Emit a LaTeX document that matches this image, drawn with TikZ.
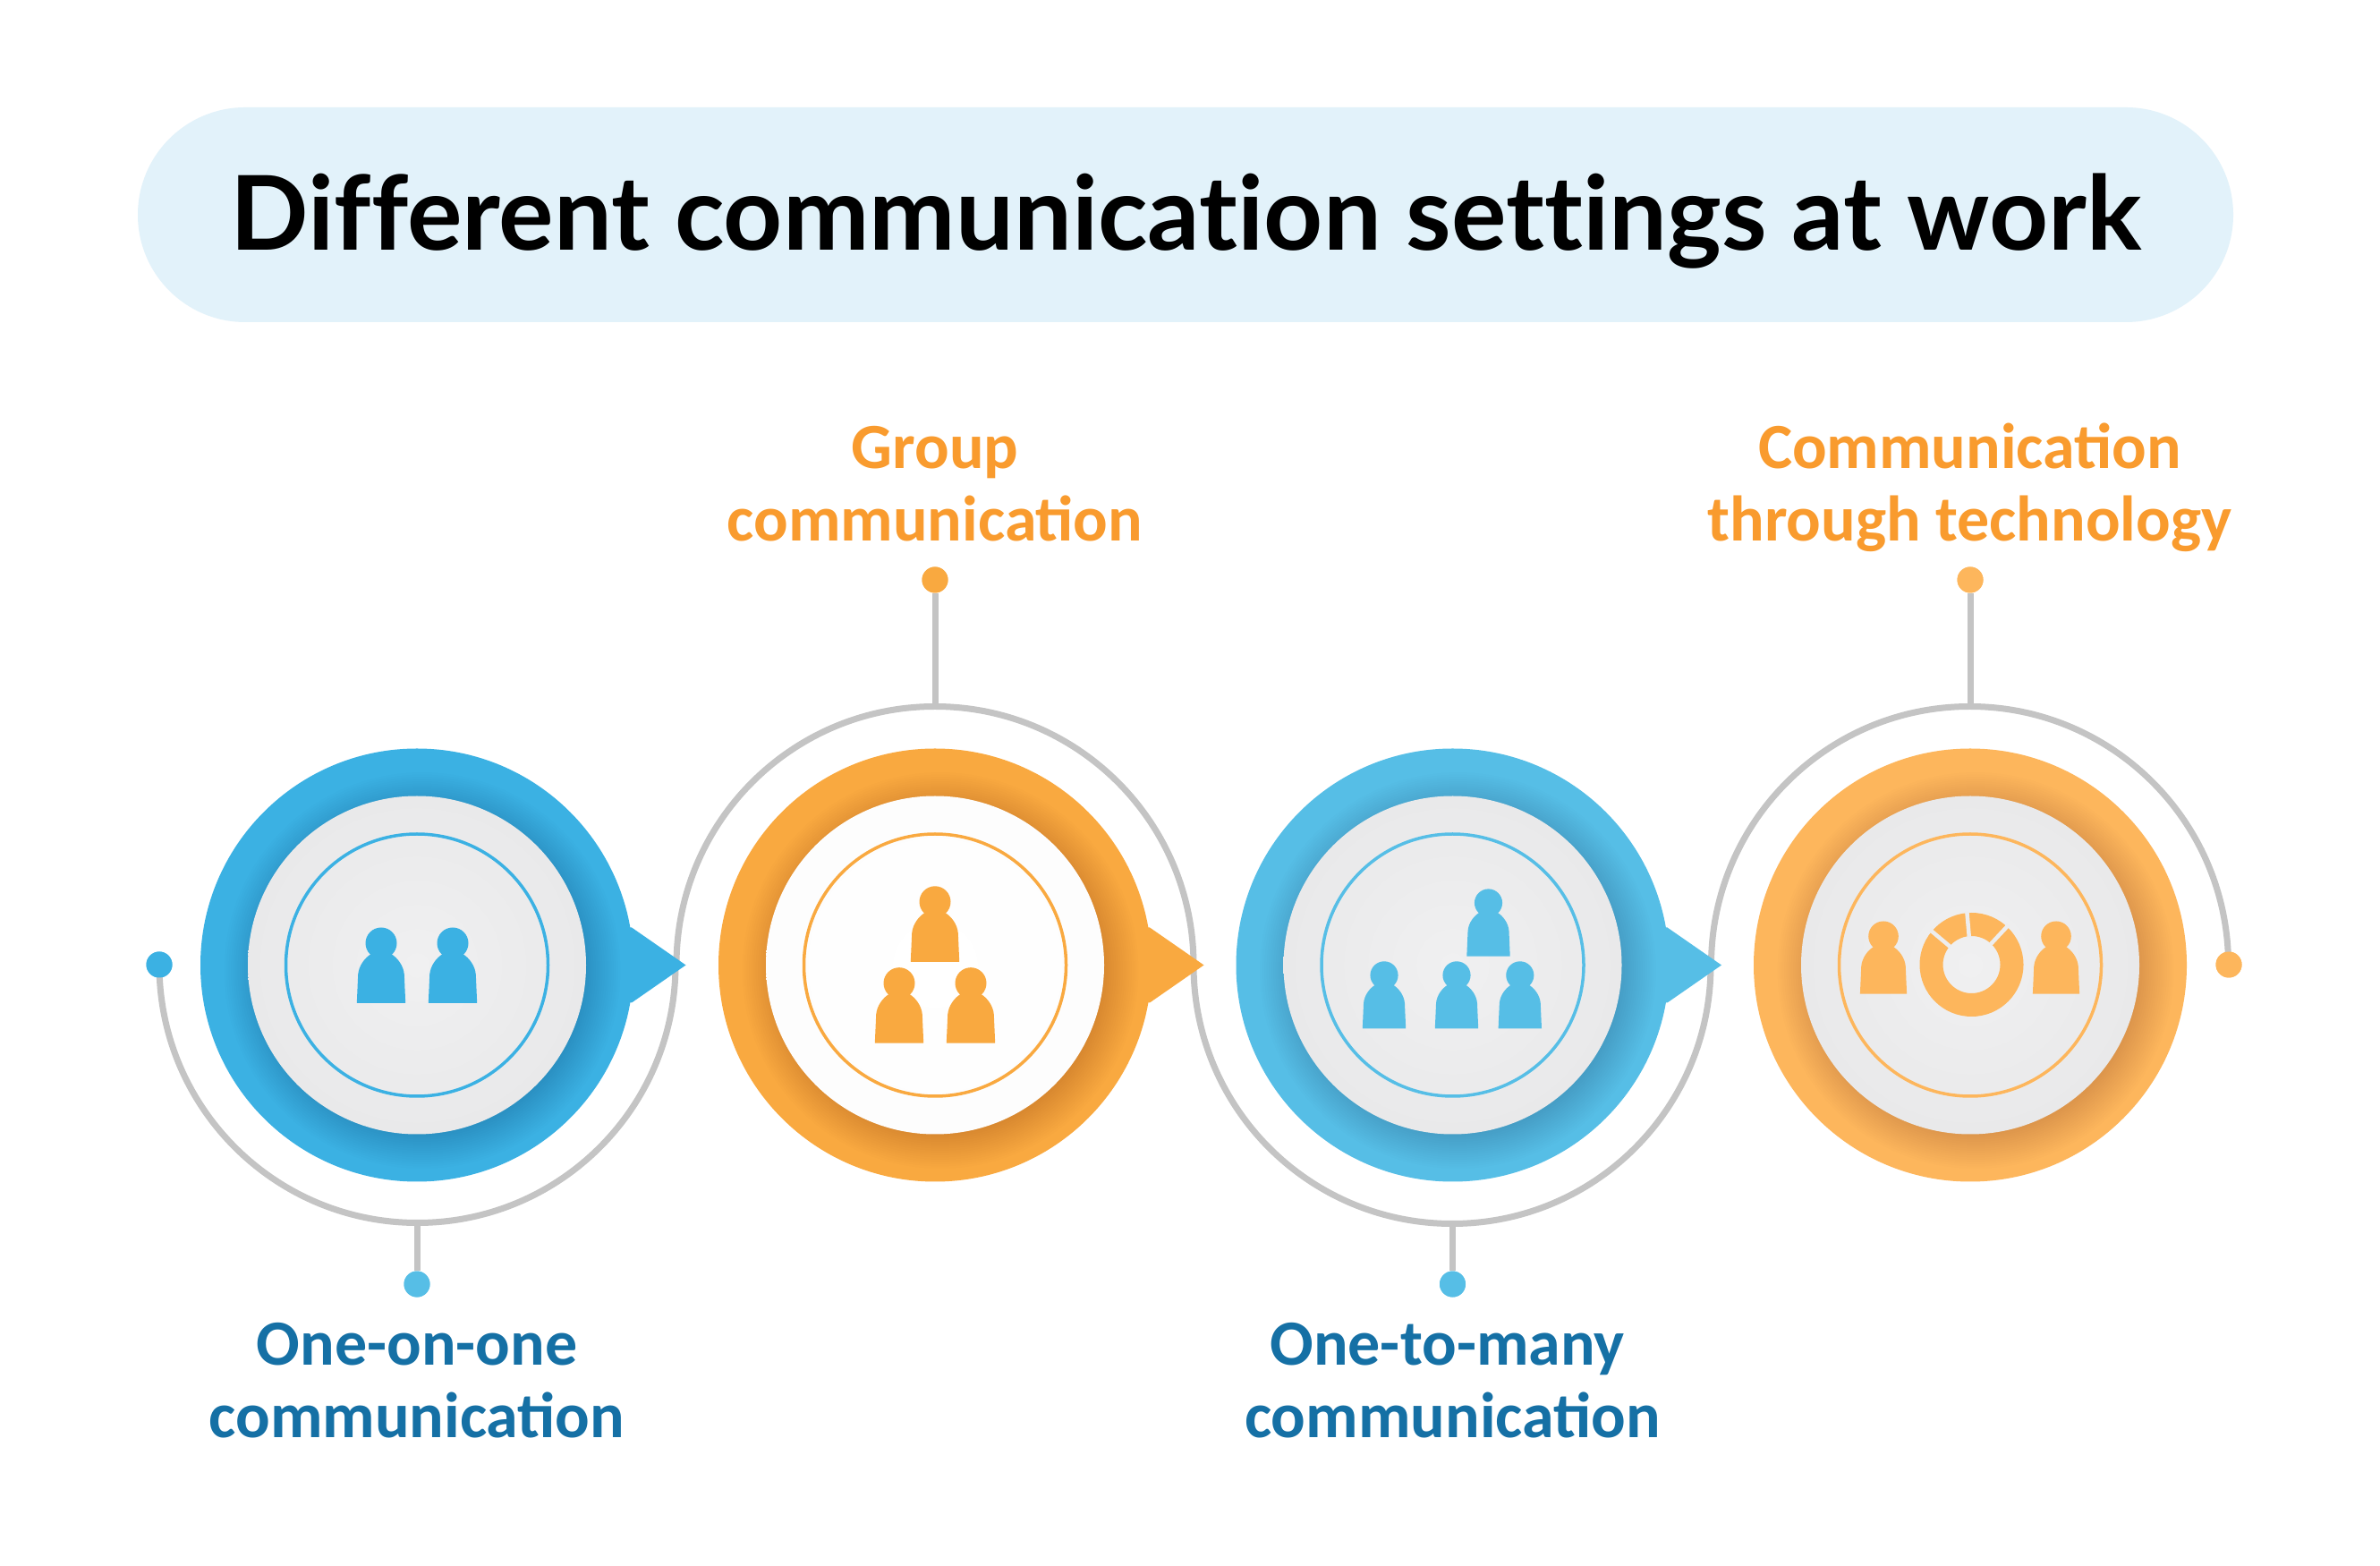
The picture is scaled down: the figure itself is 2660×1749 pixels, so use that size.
\documentclass[tikz,border=0pt]{standalone}
\usepackage{fontspec}
\setmainfont{Carlito}
\newfontfamily\titlefont[Ligatures=NoCommon]{Lato}
\definecolor{cOne}{HTML}{3BB1E3}
\definecolor{cTwo}{HTML}{F9A940}
\definecolor{cThree}{HTML}{56BEE6}
\definecolor{cFour}{HTML}{FDB65C}
\definecolor{pill}{HTML}{E2F2FA}
\definecolor{arcgray}{HTML}{C4C4C4}
\definecolor{txtblue}{HTML}{1570A5}
\definecolor{txtorange}{HTML}{F99B2E}
\definecolor{discgray}{HTML}{EDEDEE}
\definecolor{discA}{HTML}{F0F0F1}
\definecolor{discB}{HTML}{E9E9EA}
\definecolor{discW}{HTML}{FFFFFF}
\definecolor{discX}{HTML}{FDFDFD}
\tikzset{
  arcline/.style={draw=arcgray,line width=7pt},
  enddot/.style={circle,fill=#1,inner sep=0pt,minimum size=29pt},
  lblblue/.style={font=\bfseries\fontsize{72}{81}\selectfont,text=txtblue,align=center,anchor=base},
  lblorange/.style={font=\bfseries\fontsize{72}{81}\selectfont,text=txtorange,align=center,anchor=base},
}
\newcommand{\personicon}[4]{%
  \begin{scope}[shift={(#1,#2)},scale=#3]
    \fill[#4] (-27.2,0) -- (-25.8,32) .. controls (-25,42) and (-18,51) .. (-11,55)
      -- (11,55) .. controls (18,51) and (25,42) .. (25.8,32) -- (27.2,0) -- cycle;
    \fill[#4] (0,67) circle (17.5);
  \end{scope}}
\newcommand{\badge}[5]{% x, main colour, disc inner, disc outer, has tip
  \ifnum#5=1 \fill[#2] (#1+235,712.5) -- (#1+240,712.5) -- (#1+300.5,670.5) -- (#1+240,628.5) -- (#1+235,628.5) -- cycle;\fi
  \fill[#2] (#1,670.5) circle (242);
  \foreach \k in {0,...,15}{\fill[black,opacity=0.008] (#1+6,664.5) circle (184+2.5*\k);}
  \shade[inner color=#3,outer color=#4] (#1,670.5) circle (189);
  \draw[#2,line width=3.5pt] (#1,670.5) circle (146.5);}
\begin{document}
\begin{tikzpicture}[x=1pt,y=1pt]
\useasboundingbox (0,0) rectangle (2660,1749);
\fill[white] (0,0) rectangle (2660,1749);
\fill[pill,rounded corners=120pt] (154,1389) rectangle (2496,1629);
\node[font=\titlefont\bfseries\fontsize{115.2}{130}\selectfont,text=black,anchor=base] (title) at (1325.5,1469) {Different communication settings at work};

% centres of the four badges
\coordinate (c1) at (466,670.5);
\coordinate (c2) at (1045,670.5);
\coordinate (c3) at (1623.5,670.5);
\coordinate (c4) at (2202,670.5);

% end dots
\node[enddot=cOne] (dL) at (178,671) {};
\node[enddot=cThree] (d1) at (466,314) {};
\node[enddot=cTwo] (d2) at (1045,1101) {};
\node[enddot=cThree] (d3) at (1623.5,314) {};
\node[enddot=cFour] (d4) at (2202,1101) {};
\node[enddot=cFour] (dR) at (2491,671) {};

% grey S-curve
\draw[arcline] (dL.center) arc[start angle=180,end angle=360,radius=288.5];
\draw[arcline] (756,670.5) arc[start angle=180,end angle=0,radius=289];
\draw[arcline] (1334,670.5) arc[start angle=180,end angle=360,radius=289];
\draw[arcline] (1912.5,670.5) arc[start angle=180,end angle=0,radius=289];
\coordinate (b1) at (466,382);
\coordinate (t2) at (1045,959.5);
\coordinate (b3) at (1623.5,382);
\coordinate (t4) at (2202,959.5);
\draw[arcline] (b1) -- (d1);
\draw[arcline] (t2) -- (d2);
\draw[arcline] (b3) -- (d3);
\draw[arcline] (t4) -- (d4);
\fill[cOne] (dL) circle (14.5);
\fill[cThree] (d1) circle (14.5);
\fill[cTwo] (d2) circle (14.5);
\fill[cThree] (d3) circle (14.5);
\fill[cFour] (d4) circle (14.5);
\fill[cFour] (dR) circle (14.5);

% badges
\badge{466}{cOne}{discA}{discB}{1}
\badge{1045}{cTwo}{discW}{discX}{1}
\badge{1623.5}{cThree}{discA}{discB}{1}
\badge{2202}{cFour}{discA}{discB}{0}

% icons
\personicon{426}{628}{1}{cOne}
\personicon{506}{628}{1}{cOne}
\personicon{1045}{674.2}{1}{cTwo}
\personicon{1005}{583.3}{1}{cTwo}
\personicon{1085}{583.3}{1}{cTwo}
\personicon{1663.5}{680.4}{.89}{cThree}
\personicon{1547}{599.5}{.89}{cThree}
\personicon{1628}{599.5}{.89}{cThree}
\personicon{1698.8}{599.5}{.89}{cThree}
\personicon{2105}{638.4}{.96}{cFour}
\personicon{2298}{638.4}{.96}{cFour}
\fill[cFour,even odd rule] (2203.5,671) circle (58) (2203.5,671) circle (32);
\foreach \a in {95,47,140}{\draw[discgray,line width=4.5pt] (2203.5,671)++(\a:31) -- ++(\a:29);}

% labels
\node[lblblue] (l1) at (466,143) {One-on-one\\communication};
\node[lblorange] (l2) at (1045,1144) {Group\\communication};
\node[lblblue] (l3) at (1623.5,143) {One-to-many\hspace*{12pt}\\communication};
\node[lblorange] (l4) at (2201.5,1144) {Communication\\through technology};
\end{tikzpicture}
\end{document}
